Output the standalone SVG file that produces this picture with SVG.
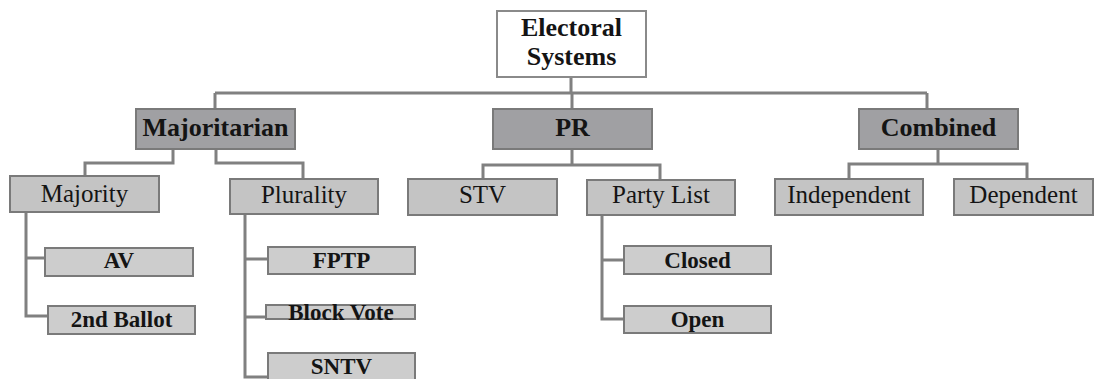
<svg xmlns="http://www.w3.org/2000/svg" width="1094" height="379" viewBox="0 0 1094 379">
<style>
.bx{stroke:#7a7a7a;stroke-width:2}
.root{fill:#ffffff;stroke:#8a8a8a}
.l1{fill:#a0a0a3}
.l2{fill:#c4c4c4}
.l3{fill:#cdcdcd}
.t{font-family:"Liberation Serif","Times New Roman",serif;fill:#141414;text-anchor:middle}
.b{font-weight:bold}
.f26{font-size:26px}
.f25{font-size:25px}
.f23{font-size:23px}
#connectors path{fill:none;stroke:#808080;stroke-width:3}
</style>
<rect width="1094" height="379" fill="#ffffff"/>
<g id="connectors">
<path d="M571 77V93M215 93H927M215 93V109M572 93V109M927 93V109"/>
<path d="M173 149V163H85V176M216 149V163H303V179"/>
<path d="M572 149V165M483 179V165H660V180"/>
<path d="M938 149V164M849 179V164H1027V179"/>
<path d="M26 212V316H48M26 258H45"/>
<path d="M245 214V377H268M245 259H268M245 317H266"/>
<path d="M602 215V319H624M602 260H624"/>
</g>
<g id="root"><rect class="bx root" x="497" y="11" width="149" height="66"/><text class="t b f26" x="571.5" y="36">Electoral</text><text class="t b f26" x="571.5" y="65">Systems</text></g>
<g id="majoritarian"><rect class="bx l1" x="136" y="109" width="159" height="40"/><text class="t b f26" x="215.5" y="136">Majoritarian</text></g>
<g id="pr"><rect class="bx l1" x="493" y="109" width="159" height="40"/><text class="t b f26" x="572.5" y="136">PR</text></g>
<g id="combined"><rect class="bx l1" x="859" y="109" width="159" height="40"/><text class="t b f26" x="938.5" y="136">Combined</text></g>
<g id="majority"><rect class="bx l2" x="10" y="176" width="149" height="36"/><text class="t f25" x="84.5" y="202">Majority</text></g>
<g id="plurality"><rect class="bx l2" x="230" y="179" width="148" height="35"/><text class="t f25" x="304" y="203">Plurality</text></g>
<g id="stv"><rect class="bx l2" x="408" y="179" width="149" height="36"/><text class="t f25" x="482.5" y="203">STV</text></g>
<g id="partylist"><rect class="bx l2" x="587" y="180" width="148" height="35"/><text class="t f25" x="661" y="203">Party List</text></g>
<g id="independent"><rect class="bx l2" x="775" y="179" width="148" height="36"/><text class="t f25" x="849" y="203">Independent</text></g>
<g id="dependent"><rect class="bx l2" x="954" y="179" width="139" height="36"/><text class="t f25" x="1023.5" y="203">Dependent</text></g>
<g id="av"><rect class="bx l3" x="45" y="248" width="148" height="28"/><text class="t b f23" x="119" y="268">AV</text></g>
<g id="ballot2"><rect class="bx l3" x="48" y="306" width="147" height="28"/><text class="t b f23" x="121.5" y="327">2nd Ballot</text></g>
<g id="fptp"><rect class="bx l3" x="268" y="247" width="147" height="27"/><text class="t b f23" x="341.5" y="268">FPTP</text></g>
<g id="blockvote"><rect class="bx l3" x="266" y="305" width="149" height="14"/><text class="t b f23" x="341" y="320">Block Vote</text></g>
<g id="sntv"><rect class="bx l3" x="268" y="353" width="147" height="32"/><text class="t b f23" x="341.5" y="374">SNTV</text></g>
<g id="closed"><rect class="bx l3" x="624" y="246" width="147" height="28"/><text class="t b f23" x="697.5" y="268">Closed</text></g>
<g id="open"><rect class="bx l3" x="624" y="306" width="147" height="27"/><text class="t b f23" x="697.5" y="327">Open</text></g>
</svg>
